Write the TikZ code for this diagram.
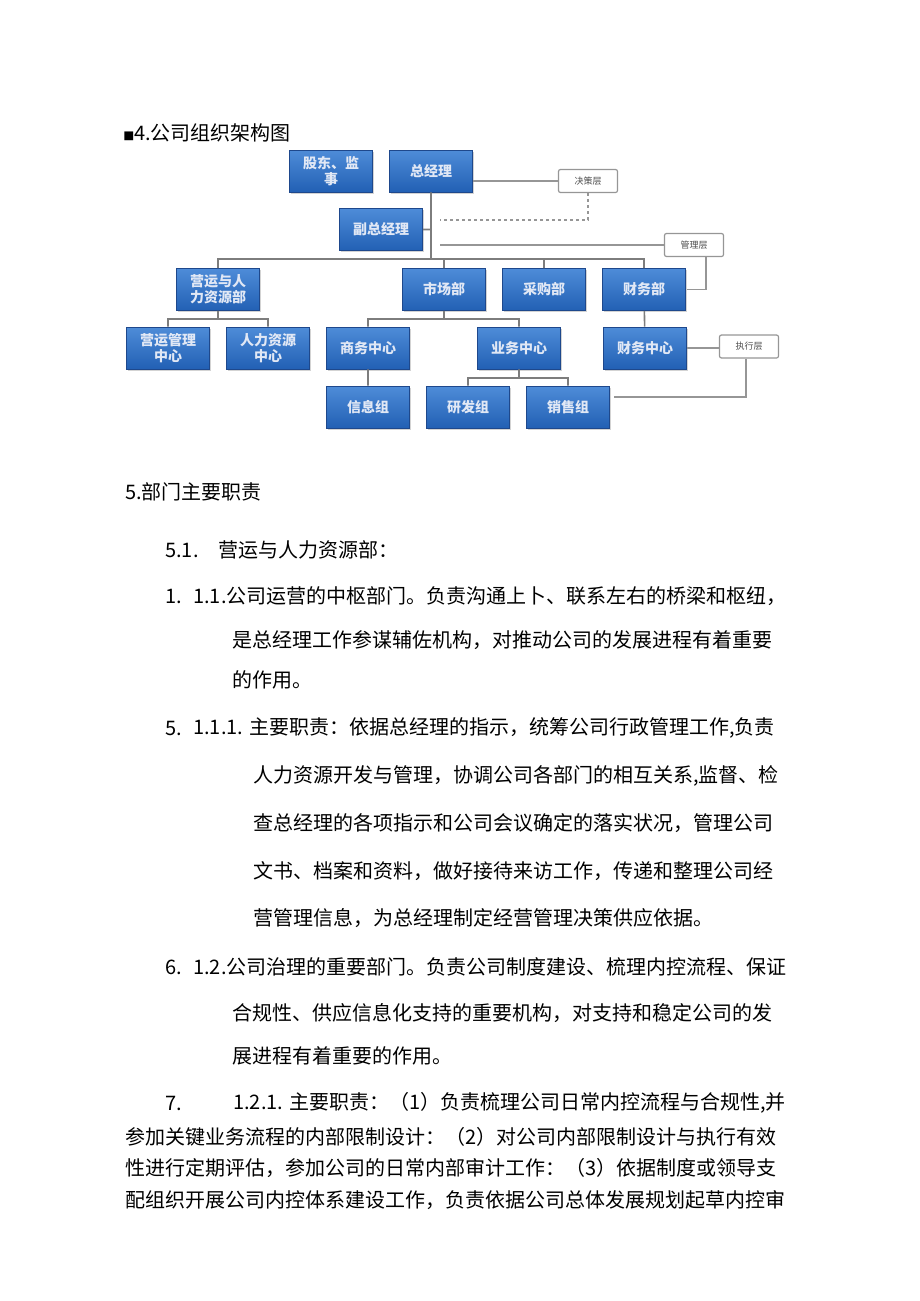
\documentclass[tikz,border=0pt]{standalone}
\usepackage{fontspec}
\setmainfont{Noto Sans CJK SC}
\usepackage{tikz}
\usetikzlibrary{positioning,shadows}

\definecolor{unittop}{RGB}{78,140,216}
\definecolor{unitbot}{RGB}{34,96,180}
\definecolor{unitrim}{RGB}{30,72,140}
\definecolor{unittext}{RGB}{225,232,245}
\definecolor{wiregray}{RGB}{125,125,125}
\definecolor{tierrim}{RGB}{150,150,150}

\begin{document}
\begin{tikzpicture}[x=1pt,y=-1pt,node distance=100pt,semithick]

  \tikzstyle{unit}=[rectangle,draw=unitrim,top color=unittop,bottom color=unitbot,
                    minimum width=83pt,minimum height=42pt,inner sep=1pt,align=center,
                    text=unittext,font=\fontsize{14}{16}\selectfont\bfseries,
                    drop shadow={opacity=0.35,shadow xshift=1.5pt,shadow yshift=-1.5pt}]
  \tikzstyle{tier}=[rectangle,draw=tierrim,fill=white,rounded corners=2pt,line width=1.2pt,
                    minimum width=59pt,minimum height=23pt,inner sep=1pt,
                    text=black!70,font=\fontsize{9}{10}\selectfont]
  \tikzstyle{wire}=[draw=wiregray,line width=1.6pt]
  \tikzstyle{tierwire}=[draw=tierrim,line width=1.2pt]
  \tikzstyle{body}=[anchor=west,inner sep=0pt,font=\fontsize{20}{24}\selectfont]

  \path[use as bounding box] (0,0) rectangle (920,1301);

  \node[body] (title) at (123,133) {{\fontsize{11}{12}\selectfont■}4.公司组织架构图};

  \node[unit] (GM)   at (431,171)   {总经理};
  \node[unit] (SH)   [left of=GM]   {股东、监\\事};
  \node[unit] (VGM)  at (381,229.5) {副总经理};

  \node[unit] (OHR)  at (218,289.5) {营运与人\\力资源部};
  \node[unit] (MKT)  at (444,289.5) {市场部};
  \node[unit] (PUR)  [right of=MKT] {采购部};
  \node[unit] (FIN)  [right of=PUR] {财务部};

  \node[unit] (OPC)  at (168,348)    {营运管理\\中心};
  \node[unit] (HRC)  [right of=OPC]  {人力资源\\中心};
  \node[unit] (BIZC) [right of=HRC]  {商务中心};
  \node[unit] (SVC)  at (519,348)    {业务中心};
  \node[unit] (FINC) at (645,348)    {财务中心};

  \node[unit] (INFO) at (368,407)    {信息组};
  \node[unit] (RND)  [right of=INFO] {研发组};
  \node[unit] (SAL)  [right of=RND]  {销售组};

  \node[tier] (DEC) at (588,181)   {决策层};
  \node[tier] (MGT) at (694,245)   {管理层};
  \node[tier] (EXE) at (749,346.5) {执行层};

  \coordinate (bus)    at (431,259);
  \coordinate (ohrj)   at (218,319);
  \coordinate (mktj)   at (444,319);
  \coordinate (svcj)   at (519,378);
  \coordinate (decend) at (440,220);
  \coordinate (mgtend) at (440,242);

  \path[wire]
  (GM) -- (bus)
  (VGM.east) -- (VGM.east -| bus)
  (OHR.north) |- (bus) -| (FIN.north)
  (MKT.north) -- (MKT.north |- bus)
  (PUR.north) -- (PUR.north |- bus)
  (OHR.south) -- (ohrj)
  (OPC.north) |- (ohrj) -| (HRC.north)
  (MKT.south) -- (mktj)
  (BIZC.north) |- (mktj) -| (SVC.north)
  (FIN) -- (FINC)
  (BIZC) -- (INFO)
  (SVC.south) -- (svcj)
  (RND.north) |- (svcj) -| (SAL.north)
  ;

  \path[tierwire]
  (DEC.west -| GM.east) -- (DEC.west)
  (MGT.west) -- (MGT.west -| mgtend)
  ([xshift=12pt]MGT.south) |- ([xshift=1pt]FIN.east)
  (FINC.east) -- (FINC.east -| EXE.west)
  ([xshift=-3pt]EXE.south) |- ([xshift=4pt,yshift=10pt]SAL.east)
  ;
  \path[tierwire,dashed] (DEC.south) |- (decend);

  \node[body] (h5)     at (125,492)  {5.部门主要职责};
  \node[body] (n51)    at (165,550)  {5.1.};
  \node[body] (t51)    at (218,550)  {营运与人力资源部：};

  \node[body] (n1)     at (165,596)  {1.};
  \node[body] (t11a)   at (193,596)  {1.1.公司运营的中枢部门。负责沟通上卜、联系左右的桥梁和枢纽，};
  \node[body] (t11b)   at (232,640)  {是总经理工作参谋辅佐机构，对推动公司的发展进程有着重要};
  \node[body] (t11c)   at (232,680)  {的作用。};

  \node[body] (n5)     at (165,728)  {5.};
  \node[body] (t111a)  at (193,728)  {1.1.1. 主要职责：依据总经理的指示，统筹公司行政管理工作,负责};
  \node[body] (t111b)  at (253,776)  {人力资源开发与管理，协调公司各部门的相互关系,监督、检};
  \node[body] (t111c)  at (253,823)  {查总经理的各项指示和公司会议确定的落实状况，管理公司};
  \node[body] (t111d)  at (253,871)  {文书、档案和资料，做好接待来访工作，传递和整理公司经};
  \node[body] (t111e)  at (253,918)  {营管理信息，为总经理制定经营管理决策供应依据。};

  \node[body] (n6)     at (165,967)  {6.};
  \node[body] (t12a)   at (193,967)  {1.2.公司治理的重要部门。负责公司制度建设、梳理内控流程、保证};
  \node[body] (t12b)   at (232,1013) {合规性、供应信息化支持的重要机构，对支持和稳定公司的发};
  \node[body] (t12c)   at (232,1056) {展进程有着重要的作用。};

  \node[body] (n7)     at (165,1103) {7.};
  \node[body] (t121a)  at (233,1103) {1.2.1. 主要职责：（1）负责梳理公司日常内控流程与合规性,并};
  \node[body] (t121b)  at (125,1137) {参加关键业务流程的内部限制设计：（2）对公司内部限制设计与执行有效};
  \node[body] (t121c)  at (125,1168) {性进行定期评估，参加公司的日常内部审计工作：（3）依据制度或领导支};
  \node[body] (t121d)  at (125,1200) {配组织开展公司内控体系建设工作，负责依据公司总体发展规划起草内控审};

\end{tikzpicture}
\end{document}
